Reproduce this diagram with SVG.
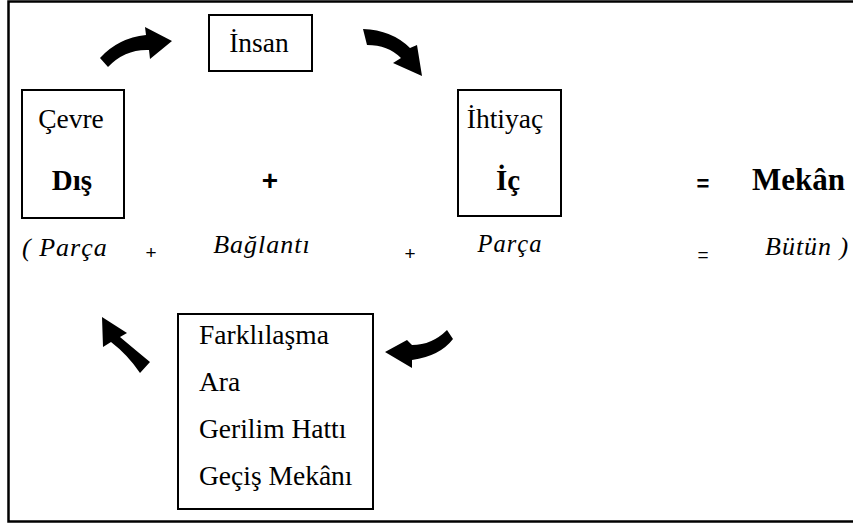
<svg xmlns="http://www.w3.org/2000/svg" width="853" height="524" viewBox="0 0 853 524">
<style>
.box{fill:#fff;stroke:#000;stroke-width:2}
.t{font-family:"Liberation Serif","Times New Roman",serif;font-size:27.5px;fill:#000}
.b{font-weight:bold;font-size:29px}
.i{font-style:italic;letter-spacing:1px;font-size:26px}
.m{text-anchor:middle}
.s{font-family:"Liberation Sans",Arial,sans-serif;font-weight:bold;fill:#000;text-anchor:middle}
.n{font-family:"Liberation Sans",Arial,sans-serif;font-weight:normal;font-size:19px;fill:#000;text-anchor:middle}
.arr{fill:#000;stroke:none}
</style>
<rect width="853" height="524" fill="#fff"/>
<path d="M853,1.5 H8.5 V521.5 H853" fill="none" stroke="#000" stroke-width="2.5"/>
<g id="connectors">
<path class="arr" d="M100,58 Q118,38 146,35 L145,27 L172,41 L150,59 L149,50 Q125,49 108,67 Z"/>
<path class="arr" d="M363,29 Q392,30 410,48 L417,45 L422,76 L393,63 L401,58 Q388,45 367,45 Z"/>
<path class="arr" d="M447,330 L453,339 Q440,356 412,360 L412,368 L385,352 L407,340 L412,345 Q432,345 447,330 Z"/>
<path class="arr" d="M102,317 L127,333 L120,337 Q133,348 150,362 L140,373 Q128,355 111,342 L103,347 Z"/>
</g>
<g id="insan">
<rect class="box" x="209" y="15" width="103" height="56"/>
<text class="t m" x="259" y="52">İnsan</text>
</g>
<g id="cevre">
<rect class="box" x="22" y="90" width="102" height="128"/>
<text class="t m" x="71" y="128">Çevre</text>
<text class="t b m" x="72" y="190">Dış</text>
</g>
<g id="ihtiyac">
<rect class="box" x="458" y="90" width="103" height="126"/>
<text class="t m" x="505" y="128">İhtiyaç</text>
<text class="t b m" x="508" y="190">İç</text>
</g>
<g id="plus1"><text class="s" x="270" y="190" font-size="28">+</text></g>
<g id="eq1"><text class="s" x="703" y="191" font-size="22">=</text></g>
<g id="mekan"><text class="t b" x="752" y="190" style="font-size:31px">Mekân</text></g>
<g id="row2">
<text class="t i" x="22" y="256">( Parça</text>
<text class="n" x="151" y="259">+</text>
<text class="t i m" x="262" y="253">Bağlantı</text>
<text class="n" x="410" y="260">+</text>
<text class="t i m" x="510" y="252" style="font-size:24.5px">Parça</text>
<text class="n" x="703" y="261">=</text>
<text class="t i" x="765" y="255">Bütün )</text>
</g>
<g id="bag">
<rect class="box" x="178" y="314" width="195" height="195"/>
<text class="t" x="199" y="344">Farklılaşma</text>
<text class="t" x="199" y="391">Ara</text>
<text class="t" x="199" y="438">Gerilim Hattı</text>
<text class="t" x="199" y="485">Geçiş Mekânı</text>
</g>
</svg>
